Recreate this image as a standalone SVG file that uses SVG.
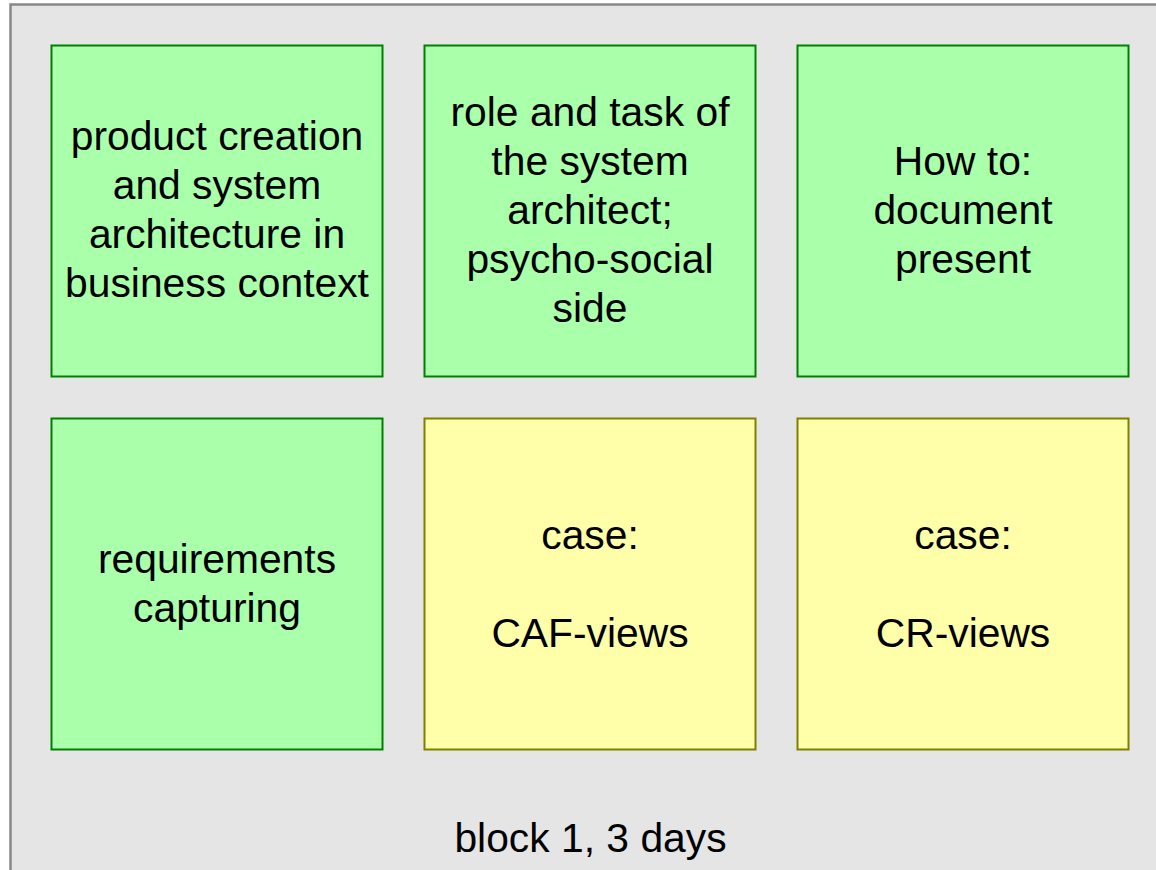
<svg xmlns="http://www.w3.org/2000/svg" width="1156" height="870" viewBox="0 0 1156 870">
<style>
.g{fill:#aaffaa;stroke:#008000;stroke-width:2}
.y{fill:#ffffaa;stroke:#808000;stroke-width:2}
text{font-family:"Liberation Sans",Arial,sans-serif;font-size:40.8px;fill:#000;text-anchor:middle}
</style>
<rect x="10.5" y="4.5" width="1170" height="900" fill="#e5e5e5" stroke="#888888" stroke-width="2.5"/>
<g id="node-product">
<rect class="g" x="51.5" y="45.5" width="331" height="331"/>
<text x="217" y="150">product creation</text>
<text x="217" y="199">and system</text>
<text x="217" y="248">architecture in</text>
<text x="217" y="297">business context</text>
</g>
<g id="node-role">
<rect class="g" x="424.5" y="45.5" width="331" height="331"/>
<text x="590" y="126">role and task of</text>
<text x="590" y="175">the system</text>
<text x="590" y="224">architect;</text>
<text x="590" y="273">psycho-social</text>
<text x="590" y="322">side</text>
</g>
<g id="node-howto">
<rect class="g" x="797.5" y="45.5" width="331" height="331"/>
<text x="963" y="175">How to:</text>
<text x="963" y="224">document</text>
<text x="963" y="273">present</text>
</g>
<g id="node-requirements">
<rect class="g" x="51.5" y="418.5" width="331" height="331"/>
<text x="217" y="572.5">requirements</text>
<text x="217" y="621.5">capturing</text>
</g>
<g id="node-caf">
<rect class="y" x="424.5" y="418.5" width="331" height="331"/>
<text x="590" y="548.5">case:</text>
<text x="590" y="646.5">CAF-views</text>
</g>
<g id="node-cr">
<rect class="y" x="797.5" y="418.5" width="331" height="331"/>
<text x="963" y="548.5">case:</text>
<text x="963" y="646.5">CR-views</text>
</g>
<g id="connectors"></g>
<text x="590.5" y="851.5">block 1, 3 days</text>
</svg>
